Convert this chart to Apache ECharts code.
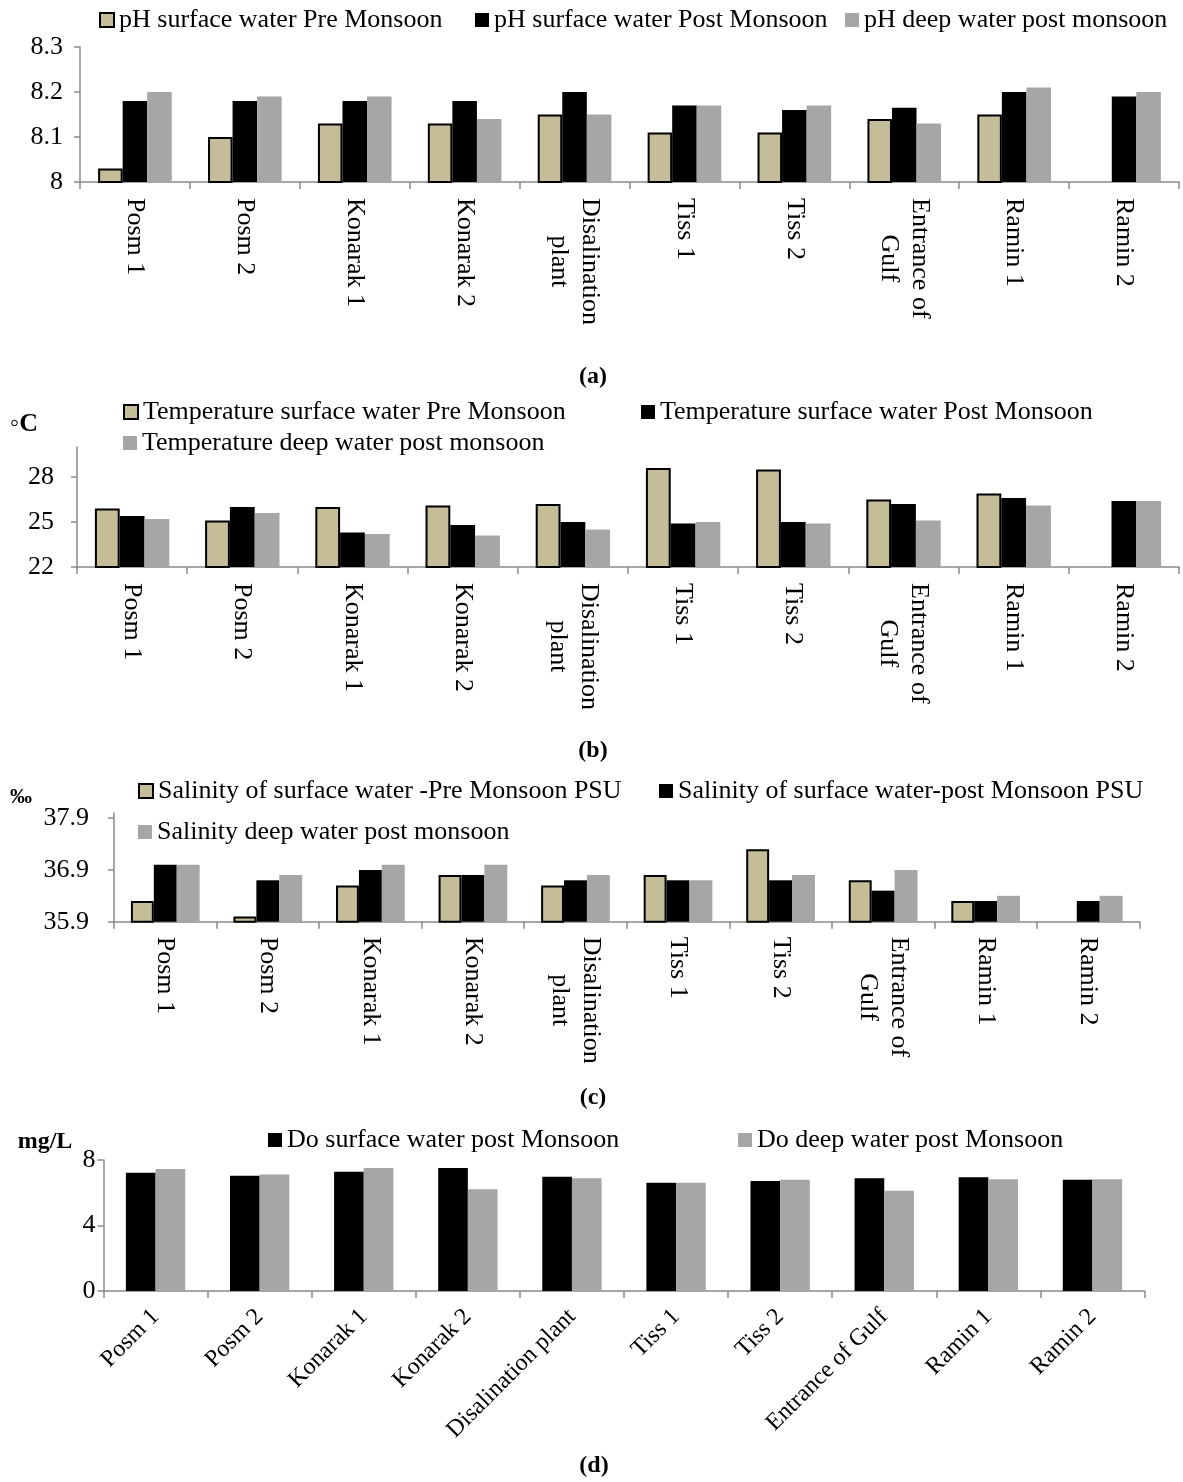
<!DOCTYPE html>
<html>
<head>
<meta charset="utf-8">
<title>Water quality parameters by station</title>
<script src="https://cdn.jsdelivr.net/npm/echarts@6/dist/echarts.min.js"></script>
<style>
  html, body { margin: 0; padding: 0; background: #fff; }
  #chart { width: 1183px; height: 1482px; }
</style>
</head>
<body>
<div id="chart"></div>
<script>
// Sampling stations along the coast
const stations = ['Posm 1', 'Posm 2', 'Konarak 1', 'Konarak 2', 'Disalination plant',
                  'Tiss 1', 'Tiss 2', 'Entrance of Gulf', 'Ramin 1', 'Ramin 2'];
// Same stations, wrapped for the vertical labels
const stationsWrapped = ['Posm 1', 'Posm 2', 'Konarak 1', 'Konarak 2', 'Disalination\nplant',
                         'Tiss 1', 'Tiss 2', 'Entrance of\nGulf', 'Ramin 1', 'Ramin 2'];

// (a) pH
const phPre  = [8.03, 8.10, 8.13, 8.13, 8.15, 8.11, 8.11, 8.14, 8.15, null];
const phPost = [8.18, 8.18, 8.18, 8.18, 8.20, 8.17, 8.16, 8.165, 8.20, 8.19];
const phDeep = [8.20, 8.19, 8.19, 8.14, 8.15, 8.17, 8.17, 8.13, 8.21, 8.20];

// (b) Temperature, °C
const tempPre  = [25.9, 25.1, 26.0, 26.1, 26.2, 28.6, 28.5, 26.5, 26.9, null];
const tempPost = [25.4, 26.0, 24.3, 24.8, 25.0, 24.9, 25.0, 26.2, 26.6, 26.4];
const tempDeep = [25.2, 25.6, 24.2, 24.1, 24.5, 25.0, 24.9, 25.1, 26.1, 26.4];
const tempTicks = [22, 25, 28];

// (c) Salinity, PSU
const salPre  = [36.3, 36.0, 36.6, 36.8, 36.6, 36.8, 37.3, 36.7, 36.3, null];
const salPost = [37.0, 36.7, 36.9, 36.8, 36.7, 36.7, 36.7, 36.5, 36.3, 36.3];
const salDeep = [37.0, 36.8, 37.0, 37.0, 36.8, 36.7, 36.8, 36.9, 36.4, 36.4];
const salTicks = [35.9, 36.9, 37.9];

// (d) Dissolved oxygen, mg/L
const doSurf = [7.22, 7.04, 7.29, 7.51, 6.98, 6.61, 6.71, 6.88, 6.94, 6.80];
const doDeep = [7.45, 7.12, 7.51, 6.22, 6.88, 6.61, 6.80, 6.12, 6.82, 6.82];

const FONT = '"Liberation Serif", "Times New Roman", serif';
const TAN = '#C4BD97', BLACK = '#000000', GRAY = '#A6A6A6';
const AXIS = '#8a8a8a';
const TICK_FONT = 26;

const tanStyle = { color: TAN, borderColor: '#000', borderWidth: 2 };
const blackStyle = { color: BLACK };
const grayStyle = { color: GRAY };

function legendItem(name, left, cy, style) {
  return {
    data: [{ name: name, icon: 'rect', itemStyle: style }],
    left: left, top: cy - 13, padding: 0,
    itemWidth: 14, itemHeight: 14, itemGap: 0,
    selectedMode: false,
    textStyle: { fontFamily: FONT, fontSize: 26, lineHeight: 26, color: '#000' }
  };
}

// Vertical station labels: each wrapped line is centred within its block
function verticalLabel(value) {
  return value.split('\n').map(function (s) { return '{c|' + s + '}'; }).join('\n');
}

function catAxis(gi, labels, rotate, margin, size, vertical) {
  const axisLabel = { interval: 0, rotate: rotate, margin: margin, fontFamily: FONT, fontSize: size, color: '#000' };
  if (vertical) {
    axisLabel.formatter = verticalLabel;
    axisLabel.rich = { c: { align: 'center', fontFamily: FONT, fontSize: size, lineHeight: 31, color: '#000' } };
  }
  return {
    type: 'category', gridIndex: gi, data: labels,
    axisLine: { show: true, lineStyle: { color: AXIS, width: 1.5 } },
    axisTick: { show: true, length: 7, alignWithLabel: false, lineStyle: { color: AXIS, width: 1.5 } },
    axisLabel: axisLabel,
    splitLine: { show: false }
  };
}

function valAxis(gi, range, margin, ticks) {
  const axis = Object.assign({
    type: 'value', gridIndex: gi,
    axisLine: { show: true, lineStyle: { color: AXIS, width: 1.5 } },
    axisTick: { show: true, length: 6, lineStyle: { color: AXIS, width: 1.5 } },
    axisLabel: { margin: margin, fontFamily: FONT, fontSize: TICK_FONT, color: '#000' },
    splitLine: { show: false }
  }, range);
  if (ticks) {
    axis.axisLabel.customValues = ticks;
    axis.axisTick.customValues = ticks;
  }
  return axis;
}

function bars(name, data, gi, style, gap) {
  return {
    type: 'bar', name: name, data: data, xAxisIndex: gi, yAxisIndex: gi,
    barGap: '0%', barCategoryGap: gap, itemStyle: style,
    emphasis: { disabled: true }, animation: false
  };
}

const n = {
  phPre: 'pH surface water Pre Monsoon',
  phPost: 'pH surface water Post Monsoon',
  phDeep: 'pH deep water post monsoon',
  tPre: 'Temperature surface water Pre Monsoon',
  tPost: 'Temperature surface water Post Monsoon',
  tDeep: 'Temperature deep water post monsoon',
  sPre: 'Salinity of surface water -Pre Monsoon PSU',
  sPost: 'Salinity of surface water-post Monsoon PSU',
  sDeep: 'Salinity deep water post monsoon',
  dSurf: 'Do surface water post Monsoon',
  dDeep: 'Do deep water post Monsoon'
};

const chart = echarts.init(document.getElementById('chart'), null, { renderer: 'canvas' });

function label(text, x, y, size) {
  return {
    type: 'text', x: x, y: y, silent: true,
    style: { text: text, fontFamily: FONT, fontSize: size, fontWeight: 'bold', fill: '#000', align: 'center', verticalAlign: 'middle' }
  };
}

chart.setOption({
  animation: false,
  backgroundColor: '#fff',
  textStyle: { fontFamily: FONT },
  grid: [
    { left: 80,    top: 47,   width: 1099,   height: 135,   outerBoundsMode: 'none' },
    { left: 77,    top: 447,  width: 1102,   height: 120,   outerBoundsMode: 'none' },
    { left: 114,   top: 813,  width: 1025.5, height: 108.7, outerBoundsMode: 'none' },
    { left: 103.5, top: 1160, width: 1041,   height: 131,   outerBoundsMode: 'none' }
  ],
  legend: [
    legendItem(n.phPre, 99, 20, tanStyle),
    legendItem(n.phPost, 475, 20, blackStyle),
    legendItem(n.phDeep, 845, 20, grayStyle),
    legendItem(n.tPre, 123, 412, tanStyle),
    legendItem(n.tPost, 641, 412, blackStyle),
    legendItem(n.tDeep, 123, 443, grayStyle),
    legendItem(n.sPre, 138, 791, tanStyle),
    legendItem(n.sPost, 659, 791, blackStyle),
    legendItem(n.sDeep, 138, 832, grayStyle),
    legendItem(n.dSurf, 268, 1140, blackStyle),
    legendItem(n.dDeep, 738, 1140, grayStyle)
  ],
  xAxis: [
    catAxis(0, stationsWrapped, -90, 16, 26, true),
    catAxis(1, stationsWrapped, -90, 16, 26, true),
    catAxis(2, stationsWrapped, -90, 15, 26, true),
    catAxis(3, stations, 45, 22, 24, false)
  ],
  yAxis: [
    valAxis(0, { min: 8, max: 8.3, interval: 0.1 }, 17),
    valAxis(1, { min: 22, max: 30 }, 23, tempTicks),
    valAxis(2, { min: 35.9, max: 38 }, 25, salTicks),
    valAxis(3, { min: 0, max: 8, interval: 4 }, 8)
  ],
  series: [
    bars(n.phPre, phPre, 0, tanStyle, '33%'),
    bars(n.phPost, phPost, 0, blackStyle, '33%'),
    bars(n.phDeep, phDeep, 0, grayStyle, '33%'),
    bars(n.tPre, tempPre, 1, tanStyle, '32.5%'),
    bars(n.tPost, tempPost, 1, blackStyle, '32.5%'),
    bars(n.tDeep, tempDeep, 1, grayStyle, '32.5%'),
    bars(n.sPre, salPre, 2, tanStyle, '33%'),
    bars(n.sPost, salPost, 2, blackStyle, '33%'),
    bars(n.sDeep, salDeep, 2, grayStyle, '33%'),
    bars(n.dSurf, doSurf, 3, blackStyle, '43%'),
    bars(n.dDeep, doDeep, 3, grayStyle, '43%')
  ],
  graphic: [
    label('\u25E6C', 24, 424, 26),
    label('\u2030', 21, 797, 22),
    label('mg/L', 45, 1142, 24),
    label('(a)', 593, 377, 24),
    label('(b)', 593, 751, 24),
    label('(c)', 593, 1098, 24),
    label('(d)', 594, 1466, 24)
  ]
});
</script>
</body>
</html>
